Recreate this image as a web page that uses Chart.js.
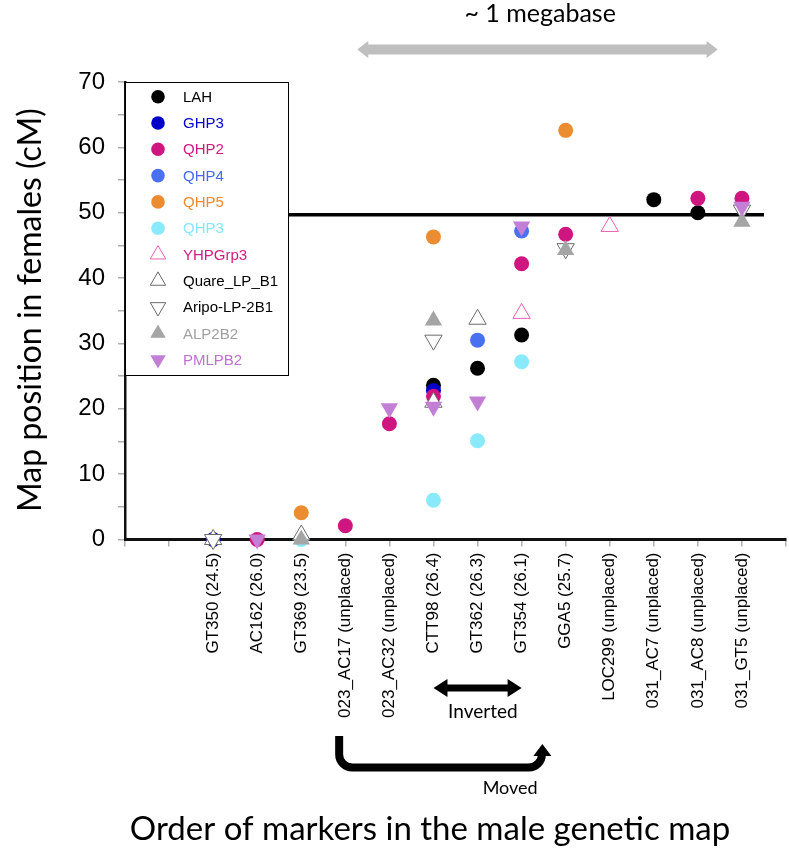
<!DOCTYPE html>
<html><head><meta charset="utf-8">
<script src="https://cdn.jsdelivr.net/npm/chart.js@4/dist/chart.umd.min.js"></script>
<style>html,body{margin:0;padding:0;background:#fff}#wrap{width:789px;height:855px}</style>
</head><body><div id="wrap"><canvas id="c" width="789" height="855"></canvas></div>
<script>
// ---- DATA ----
const markerNames = ['GT350 (24.5)','AC162 (26.0)','GT369 (23.5)','023_AC17 (unplaced)','023_AC32 (unplaced)','CTT98 (26.4)','GT362 (26.3)','GT354 (26.1)','GGA5 (25.7)','LOC299 (unplaced)','031_AC7 (unplaced)','031_AC8 (unplaced)','031_GT5 (unplaced)'];
const markerPositions = [2,3,4,5,6,7,8,9,10,11,12,13,14];
const LAH        = [null,null,null,null,null,23.6,26.2,31.3,null,null,52.0,50.0,null];
const GHP3       = [0,null,null,null,null,22.8,null,null,null,null,null,null,null];
const QHP2       = [null,0,null,2.1,17.7,21.9,null,42.2,46.7,null,null,52.2,52.2];
const QHP4       = [null,null,null,null,null,null,30.5,47.2,null,null,null,null,null];
const QHP5       = [null,null,4.1,null,null,46.3,null,null,62.6,null,null,null,null];
const QHP3       = [null,null,0,null,null,6.0,15.1,27.2,null,null,null,null,null];
const YHPGrp3    = [null,null,null,null,null,null,null,34.6,null,47.9,null,null,null];
const Quare_LP_B1= [0,null,0.7,null,null,21.0,33.7,null,null,null,null,null,null];
const Aripo_LP_2B1=[0,null,null,null,null,30.5,null,null,44.5,null,null,null,50.4];
const ALP2B2     = [null,null,0,null,null,33.5,null,null,44.3,null,null,null,48.6];
const PMLPB2     = [null,0,null,null,20.1,20.3,21.1,47.9,null,null,null,null,50.9];
const femaleLineValue = 49.7;
const femaleLineSpan = [0.3, 14.5];
const yTickStep = 10;

// ---- STYLES ----
const seriesStyles = [
  {label:'LAH', data:LAH, shape:'circle', fill:'#000000', stroke:'#000000', text:'#000000'},
  {label:'GHP3', data:GHP3, shape:'circle', fill:'#0000c8', stroke:'#0000c8', text:'#0000d0'},
  {label:'QHP2', data:QHP2, shape:'circle', fill:'#cf1580', stroke:'#cf1580', text:'#d0187f'},
  {label:'QHP4', data:QHP4, shape:'circle', fill:'#4870f0', stroke:'#4870f0', text:'#4468ee'},
  {label:'QHP5', data:QHP5, shape:'circle', fill:'#ec8c30', stroke:'#ec8c30', text:'#ec8a2c'},
  {label:'QHP3', data:QHP3, shape:'circle', fill:'#8ae9fb', stroke:'#8ae9fb', text:'#86e6fa'},
  {label:'YHPGrp3', data:YHPGrp3, shape:'up', open:true, fill:'#ffffff', stroke:'#e860b0', text:'#d01a80'},
  {label:'Quare_LP_B1', data:Quare_LP_B1, shape:'up', open:true, fill:'#ffffff', stroke:'#6a6a6a', text:'#000000'},
  {label:'Aripo-LP-2B1', data:Aripo_LP_2B1, shape:'down', open:true, fill:'#ffffff', stroke:'#6a6a6a', text:'#000000'},
  {label:'ALP2B2', data:ALP2B2, shape:'up', fill:'#a5a5a5', stroke:'#a5a5a5', text:'#a0a0a0'},
  {label:'PMLPB2', data:PMLPB2, shape:'down', fill:'#c37fd6', stroke:'#c37fd6', text:'#c070d0'}
];

function toPoints(vals){
  const out = [];
  vals.forEach((v,i)=>{ if(v!==null) out.push({x:markerPositions[i], y:v}); });
  return out;
}

function drawMarker(ctx, s, x, y, rc, rt){
  ctx.save();
  ctx.beginPath();
  if (s.shape==='circle'){
    ctx.arc(x,y,rc,0,Math.PI*2);
  } else {
    const dir = s.shape==='up' ? 1 : -1;
    for (let k=0;k<3;k++){
      const a = k*2*Math.PI/3;
      const px = x + Math.sin(a)*rt, py = y - dir*Math.cos(a)*rt;
      if(k===0) ctx.moveTo(px,py); else ctx.lineTo(px,py);
    }
    ctx.closePath();
  }
  ctx.fillStyle = s.fill; ctx.fill();
  if (s.open){ ctx.strokeStyle = s.stroke; ctx.lineWidth = 1; ctx.stroke(); }
  ctx.restore();
}

function dblArrow(ctx, x1, x2, y, shaft, headLen, headH, color){
  ctx.save();
  ctx.fillStyle = color;
  ctx.beginPath();
  ctx.moveTo(x1, y);
  ctx.lineTo(x1+headLen, y-headH/2);
  ctx.lineTo(x1+headLen, y-shaft/2);
  ctx.lineTo(x2-headLen, y-shaft/2);
  ctx.lineTo(x2-headLen, y-headH/2);
  ctx.lineTo(x2, y);
  ctx.lineTo(x2-headLen, y+headH/2);
  ctx.lineTo(x2-headLen, y+shaft/2);
  ctx.lineTo(x1+headLen, y+shaft/2);
  ctx.lineTo(x1+headLen, y+headH/2);
  ctx.closePath();
  ctx.fill();
  ctx.restore();
}

const decor = {
  id:'decor',
  afterDraw(chart){
    const ctx = chart.ctx, xs = chart.scales.x, ys = chart.scales.y;
    // legend box
    const lx = xs.left, ly = ys.top, lw = 163, lh = 293;
    ctx.save();
    ctx.fillStyle = '#fff'; ctx.fillRect(lx+1, ly, lw, lh);
    ctx.strokeStyle = '#000'; ctx.lineWidth = 1; ctx.strokeRect(lx+0.5, ly+0.5, lw, lh);
    seriesStyles.forEach((s,i)=>{
      const cy = ly + 14.7 + i*26.3;
      drawMarker(ctx, s, lx+33, cy, 6.8, 8.9);
      ctx.fillStyle = s.text;
      ctx.font = '15px "Liberation Sans", Arial, sans-serif';
      ctx.textAlign = 'left'; ctx.textBaseline = 'middle';
      ctx.fillText(s.label, lx+58, cy+1);
    });
    ctx.restore();

    // top gray arrow and label
    dblArrow(ctx, xs.getPixelForValue(5.27), xs.getPixelForValue(13.45), 49.5, 10, 11, 17, '#bfbfbf');
    ctx.save();
    ctx.fillStyle = '#000';
    ctx.font = '25px Lato, "Open Sans", sans-serif';
    ctx.textAlign = 'center'; ctx.textBaseline = 'alphabetic';
    ctx.fillText('~ 1 megabase', xs.getPixelForValue(9.42), 22);

    // inverted arrow
    dblArrow(ctx, xs.getPixelForValue(7.0), xs.getPixelForValue(9.0), 688, 7, 14, 18, '#000');
    ctx.font = '19px Lato, "Open Sans", sans-serif';
    ctx.textBaseline = 'middle';
    ctx.fillText('Inverted', xs.getPixelForValue(8.12), 712);

    // moved bent arrow
    const bx1 = xs.getPixelForValue(4.86), bx2 = xs.getPixelForValue(9.46);
    ctx.strokeStyle = '#000'; ctx.lineWidth = 8; ctx.lineCap = 'butt';
    ctx.beginPath();
    ctx.moveTo(bx1, 736);
    ctx.arcTo(bx1, 767.5, bx1+14, 767.5, 13);
    ctx.arcTo(bx2, 767.5, bx2, 755, 13);
    ctx.lineTo(bx2, 754);
    ctx.stroke();
    ctx.fillStyle = '#000';
    ctx.beginPath();
    ctx.moveTo(bx2+0.5, 744);
    ctx.lineTo(bx2+9.5, 756);
    ctx.lineTo(bx2-8.5, 756);
    ctx.closePath(); ctx.fill();
    ctx.font = '18px Lato, "Open Sans", sans-serif';
    ctx.textBaseline = 'alphabetic';
    ctx.fillText('Moved', xs.getPixelForValue(8.74), 794);

    // axis titles
    ctx.font = '33px Lato, "Open Sans", sans-serif';
    ctx.fillText('Order of markers in the male genetic map', 430, 840);
    ctx.translate(31, 310);
    ctx.rotate(-Math.PI/2);
    ctx.textBaseline = 'middle';
    ctx.font = '32px Lato, "Open Sans", sans-serif';
    ctx.fillText('Map position in females (cM)', 0, 0);
    ctx.restore();
  }
};

const datasets = [{
  type:'line', label:'_line',
  data: femaleLineSpan.map(x=>({x:x, y:femaleLineValue})),
  borderColor:'#000', borderWidth:3.5, pointRadius:0, order:100
}].concat(seriesStyles.map((s,i)=>({
  type:'scatter', label:s.label, data:toPoints(s.data),
  clip:false,
  pointStyle: s.shape==='circle' ? 'circle' : 'triangle',
  pointRotation: s.shape==='down' ? 180 : 0,
  pointRadius: s.shape==='circle' ? 7.5 : 10,
  pointHoverRadius: s.shape==='circle' ? 7.5 : 10,
  pointBackgroundColor: s.fill, pointBorderColor: s.stroke,
  pointBorderWidth: s.open ? 1 : 0,
  backgroundColor: s.fill, borderColor: s.stroke,
  order: 50 - i
})));

new Chart(document.getElementById('c'), {
  data:{datasets},
  options:{
    responsive:false, animation:false, devicePixelRatio:1,
    layout:{autoPadding:false, padding:{left:0,right:3,top:82,bottom:0}},
    plugins:{legend:{display:false}, tooltip:{enabled:false}},
    scales:{
      x:{type:'linear', position:'bottom', min:0, max:15,
        ticks:{stepSize:1, autoSkip:false, minRotation:90, maxRotation:90, padding:6, color:'#000',
          font:{family:'"Liberation Sans", Arial, sans-serif', size:17},
          callback:(v)=>{ const k = markerPositions.indexOf(v); return k>=0 ? markerNames[k] : ''; }},
        grid:{drawOnChartArea:false, drawTicks:true, tickLength:7, color:'#b0b0b0', lineWidth:1.5},
        border:{color:'#111', width:3},
        afterFit:(s)=>{ s.height = 315.5; s.paddingLeft = 0; s.paddingRight = 0; }
      },
      y:{type:'linear', min:0, max:70,
        ticks:{stepSize:5, padding:13, color:'#000',
          font:{family:'"Liberation Sans", Arial, sans-serif', size:24},
          callback:(v)=> (v % yTickStep === 0 ? String(v) : '')},
        grid:{drawOnChartArea:false, drawTicks:true, tickLength:7, color:'#b0b0b0', lineWidth:1.5},
        border:{color:'#111', width:2.5},
        afterFit:(s)=>{ s.width = 125; s.paddingTop = 0; s.paddingBottom = 0; }
      }
    }
  },
  plugins:[decor]
});
</script>
</body></html>
